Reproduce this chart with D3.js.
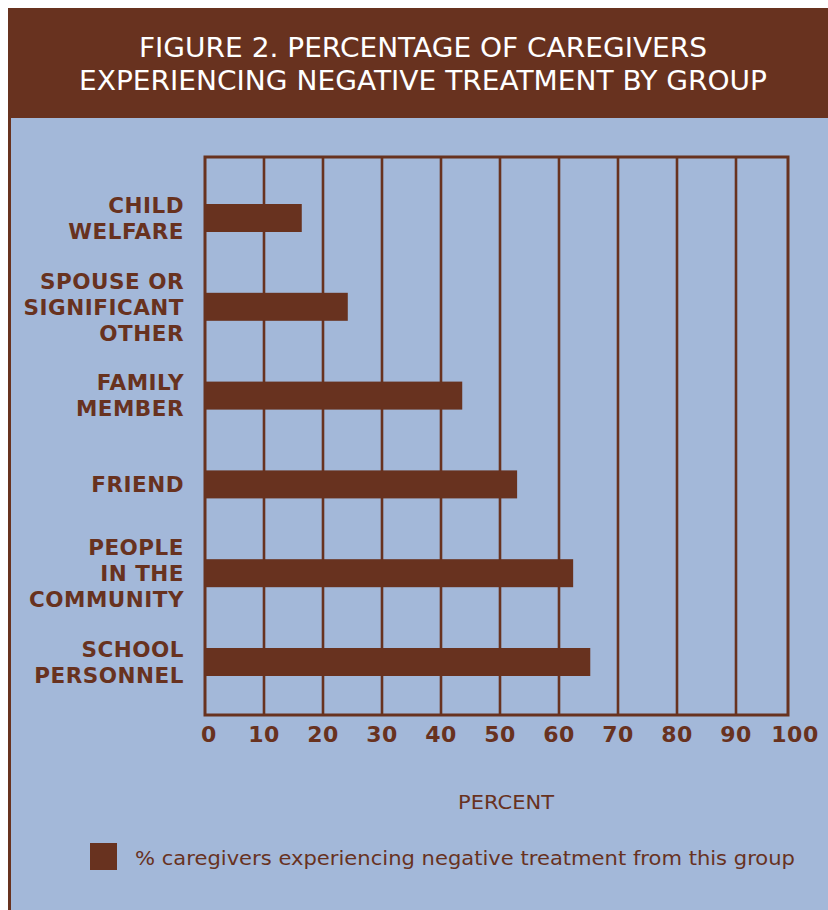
<!DOCTYPE html>
<html>
<head>
<meta charset="utf-8">
<script src="https://cdn.jsdelivr.net/npm/d3@7"></script>
<style>
  html, body { margin: 0; padding: 0; background: #ffffff; }
  svg { display: block; }
</style>
</head>
<body>
<div id="chart"></div>
<script>
// ---- data ----
const categories = ["CHILD WELFARE", "SPOUSE OR SIGNIFICANT OTHER", "FAMILY MEMBER", "FRIEND", "PEOPLE IN THE COMMUNITY", "SCHOOL PERSONNEL"];
const categoryLines = [["CHILD", "WELFARE"], ["SPOUSE OR", "SIGNIFICANT", "OTHER"], ["FAMILY", "MEMBER"], ["FRIEND"], ["PEOPLE", "IN THE", "COMMUNITY"], ["SCHOOL", "PERSONNEL"]];
const values = [16.4, 24.2, 43.6, 52.9, 62.4, 65.3];
const tickValues = [0, 10, 20, 30, 40, 50, 60, 70, 80, 90, 100];
const titleLines = ["FIGURE 2. PERCENTAGE OF CAREGIVERS", "EXPERIENCING NEGATIVE TREATMENT BY GROUP"];
const axisTitle = "PERCENT";
const legendLabel = "% caregivers experiencing negative treatment from this group";

// ---- style / layout ----
const W = 828, H = 910;
const BROWN = "#68321f";
const BLUE = "#a3b8d9";
const plot = { left: 205, right: 788, top: 157, bottom: 715 };

const svg = d3.select("#chart").append("svg").attr("width", W).attr("height", H);

// background panels
svg.append("rect").attr("x", 0).attr("y", 0).attr("width", W).attr("height", H).attr("fill", "#ffffff");
svg.append("rect").attr("x", 8).attr("y", 8).attr("width", W - 8).attr("height", 110).attr("fill", BROWN);
svg.append("rect").attr("x", 8).attr("y", 118).attr("width", W - 8).attr("height", H - 118).attr("fill", BROWN);
svg.append("rect").attr("x", 11).attr("y", 118).attr("width", W - 11).attr("height", H - 118).attr("fill", BLUE);

// title
const titleY = [57, 90];
const titleW = [568, 688];
titleLines.forEach((t, i) => {
  svg.append("text")
    .attr("x", 423).attr("y", titleY[i])
    .attr("text-anchor", "middle")
    .attr("font-family", "'DejaVu Sans', Verdana, sans-serif")
    .attr("font-size", 26.5)
    .attr("fill", "#ffffff")
    .attr("textLength", titleW[i])
    .attr("lengthAdjust", "spacingAndGlyphs")
    .text(t);
});

// scales
const x = d3.scaleLinear().domain([0, 100]).range([plot.left, plot.left + 590]);
const y = d3.scalePoint().domain(categories).range([218, 662]);
const barH = 28;

// gridlines
svg.append("g").selectAll("line")
  .data(tickValues.filter(t => t > 0 && t < 100))
  .join("line")
  .attr("x1", d => x(d)).attr("x2", d => x(d))
  .attr("y1", plot.top).attr("y2", plot.bottom)
  .attr("stroke", BROWN).attr("stroke-width", 2.6);

// frame
svg.append("rect")
  .attr("x", plot.left).attr("y", plot.top)
  .attr("width", plot.right - plot.left).attr("height", plot.bottom - plot.top)
  .attr("fill", "none").attr("stroke", BROWN).attr("stroke-width", 3);

// bars
svg.append("g").selectAll("rect")
  .data(values)
  .join("rect")
  .attr("x", x(0))
  .attr("y", (d, i) => y(categories[i]) - barH / 2)
  .attr("width", d => x(d) - x(0))
  .attr("height", barH)
  .attr("fill", BROWN);

// category labels
const lineH = 26, capHalf = 7.8;
const catG = svg.append("g")
  .attr("font-family", "'DejaVu Sans', Verdana, sans-serif")
  .attr("font-weight", "bold")
  .attr("font-size", 21.5)
  .attr("letter-spacing", "0.5px")
  .attr("fill", BROWN)
  .attr("text-anchor", "end");
categories.forEach((c, i) => {
  const lines = categoryLines[i];
  const cy = y(c);
  const t = catG.append("text");
  lines.forEach((ln, j) => {
    t.append("tspan")
      .attr("x", 184)
      .attr("y", cy + (j - (lines.length - 1) / 2) * lineH + capHalf)
      .text(ln);
  });
});

// x tick labels
svg.append("g")
  .attr("font-family", "'DejaVu Sans', Verdana, sans-serif")
  .attr("font-weight", "bold")
  .attr("font-size", 22)
  .attr("letter-spacing", "0.5px")
  .attr("fill", BROWN)
  .attr("text-anchor", "middle")
  .selectAll("text")
  .data(tickValues)
  .join("text")
  .attr("x", d => x(d) + (d === 0 ? 4 : 0))
  .attr("y", 742)
  .text(d => d);

// axis title
svg.append("text")
  .attr("x", 506).attr("y", 809)
  .attr("text-anchor", "middle")
  .attr("font-family", "'DejaVu Sans', Verdana, sans-serif")
  .attr("font-size", 19.5)
  .attr("fill", BROWN)
  .attr("textLength", 96)
  .attr("lengthAdjust", "spacingAndGlyphs")
  .text(axisTitle);

// legend
svg.append("rect")
  .attr("x", 90).attr("y", 843).attr("width", 27).attr("height", 27)
  .attr("fill", BROWN);
svg.append("text")
  .attr("x", 135).attr("y", 865)
  .attr("font-family", "'DejaVu Sans', Verdana, sans-serif")
  .attr("font-size", 20)
  .attr("fill", BROWN)
  .attr("textLength", 660)
  .attr("lengthAdjust", "spacingAndGlyphs")
  .text(legendLabel);
</script>
</body>
</html>
